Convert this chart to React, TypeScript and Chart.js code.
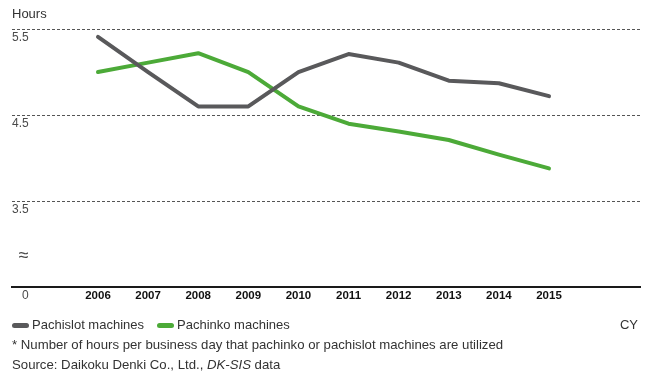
import React, { useEffect, useRef } from 'react';
import { Chart, registerables } from 'chart.js';

Chart.register(...registerables);

// ---- data ----
const YEARS = [2006, 2007, 2008, 2009, 2010, 2011, 2012, 2013, 2014, 2015];
const PACHISLOT = [5.41, 5.0, 4.6, 4.6, 5.0, 5.21, 5.11, 4.9, 4.87, 4.72];
const PACHINKO = [5.0, 5.11, 5.22, 5.0, 4.6, 4.4, 4.31, 4.21, 4.04, 3.88];
const SERIES_NAMES = ['Pachislot machines', 'Pachinko machines'];
const Y_TICKS = [2.5, 2.96, 3.5, 4.5, 5.5];
const Y_TICK_LABELS = ['0', '≈', '3.5', '4.5', '5.5'];
const Y_GRID_TICKS = [3.5, 4.5, 5.5];
const Y_BREAK_TICK = 2.96;
const Y_TITLE = 'Hours';
const X_UNIT = 'CY';
const FOOTNOTE = '* Number of hours per business day that pachinko or pachislot machines are utilized';
const SOURCE_PREFIX = 'Source: Daikoku Denki Co., Ltd., ';
const SOURCE_ITALIC = 'DK-SIS';
const SOURCE_SUFFIX = ' data';

// ---- styles ----
const COLORS = ['#59595b', '#4caa38'];
const SANS = "'Liberation Sans', Arial, Helvetica, sans-serif";
const TEXT = '#333333';

export default function App() {
  const ref = useRef<HTMLCanvasElement>(null);

  useEffect(() => {
    if (!ref.current) return;
    const chart = new Chart(ref.current, {
      type: 'line',
      data: {
        datasets: [PACHISLOT, PACHINKO].map((vals, i) => ({
          label: SERIES_NAMES[i],
          data: vals.map((v, j) => ({ x: YEARS[j], y: v })),
          borderColor: COLORS[i],
          backgroundColor: COLORS[i],
          borderWidth: 4,
          pointRadius: 0,
          pointHoverRadius: 0,
          tension: 0,
          borderCapStyle: 'round',
          borderJoinStyle: 'round',
          fill: false,
        })),
      },
      options: {
        animation: false,
        responsive: false,
        maintainAspectRatio: false,
        events: [],
        layout: { padding: { left: 12, right: 10, top: 0, bottom: 68 } },
        plugins: {
          legend: { display: false },
          tooltip: { enabled: false },
          title: {
            display: true,
            text: Y_TITLE,
            align: 'start',
            color: TEXT,
            font: { family: SANS, size: 13, weight: 'normal' },
            padding: { top: 6.5, bottom: 7 },
          },
        },
        scales: {
          x: {
            type: 'linear',
            min: 2004.284,
            max: 2016.816,
            afterBuildTicks: (axis: any) => {
              axis.ticks = YEARS.map((v) => ({ value: v }));
            },
            afterFit: (axis: any) => {
              axis.height = 20;
            },
            grid: { display: false, drawTicks: false },
            border: { display: true, color: '#1a1a1a', width: 2 },
            ticks: {
              autoSkip: false,
              maxRotation: 0,
              minRotation: 0,
              padding: 2,
              color: '#111111',
              font: { family: SANS, size: 11.5, weight: 'bold' },
              callback: (v: any) => String(v),
            },
          },
          y: {
            type: 'linear',
            min: 2.5,
            max: 5.5,
            afterBuildTicks: (axis: any) => {
              axis.ticks = Y_TICKS.map((v) => ({ value: v }));
            },
            grid: {
              drawTicks: false,
              lineWidth: 1,
              color: (ctx: any) =>
                ctx.tick && Y_GRID_TICKS.includes(ctx.tick.value) ? '#555555' : 'rgba(0,0,0,0)',
            },
            border: { display: false, dash: [3, 2] },
            ticks: {
              mirror: true,
              crossAlign: 'far',
              padding: 0,
              labelOffset: 9,
              color: '#4a4a4a',
              font: (ctx: any) =>
                ctx.tick && ctx.tick.value === Y_BREAK_TICK
                  ? { family: SANS, size: 18 }
                  : { family: SANS, size: 12 },
              callback: (v: any) => {
                const i = Y_TICKS.indexOf(Number(v));
                return i >= 0 ? Y_TICK_LABELS[i] : '';
              },
            },
          },
        },
      },
    });
    return () => chart.destroy();
  }, []);

  const textStyle: React.CSSProperties = {
    position: 'absolute',
    left: 12,
    fontFamily: SANS,
    fontSize: 13,
    color: TEXT,
    lineHeight: '16px',
    whiteSpace: 'nowrap',
  };

  return (
    <div
      style={{
        position: 'fixed',
        left: 0,
        top: 0,
        width: 650,
        height: 375,
        background: '#ffffff',
        overflow: 'hidden',
      }}
    >
      <canvas
        ref={ref}
        width={650}
        height={375}
        style={{ position: 'absolute', left: 0, top: 0, width: 650, height: 375 }}
      />
      <div style={{ ...textStyle, top: 317, display: 'flex', alignItems: 'center' }}>
        {SERIES_NAMES.map((name, i) => (
          <span key={name} style={{ display: 'flex', alignItems: 'center', marginLeft: i ? 13 : 0 }}>
            <span
              style={{
                display: 'inline-block',
                width: 17,
                height: 5,
                borderRadius: 3,
                background: COLORS[i],
                marginRight: 3,
              }}
            />
            <span>{name}</span>
          </span>
        ))}
      </div>
      <div style={{ ...textStyle, left: undefined, right: 12, top: 317 }}>{X_UNIT}</div>
      <div style={{ ...textStyle, top: 337, fontSize: 13.2 }}>{FOOTNOTE}</div>
      <div style={{ ...textStyle, top: 357, fontSize: 13.2 }}>
        {SOURCE_PREFIX}
        <i>{SOURCE_ITALIC}</i>
        {SOURCE_SUFFIX}
      </div>
    </div>
  );
}
